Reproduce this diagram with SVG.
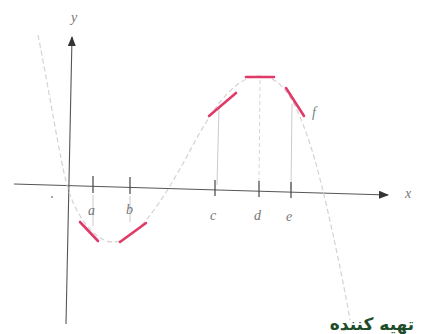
<svg xmlns="http://www.w3.org/2000/svg" width="424" height="334" viewBox="0 0 424 334">
<style>
.axis{stroke:#555;stroke-width:1.1;fill:none}
.tick{stroke:#444;stroke-width:1.2}
.curve{stroke:#d8d0d2;stroke-width:1.2;fill:none;stroke-dasharray:5 3}
.guide{stroke:#c4c4c4;stroke-width:0.9;fill:none}
.guided{stroke:#d0d0d0;stroke-width:0.9;fill:none;stroke-dasharray:4 3}
.tan{stroke:#e03a68;stroke-width:2.6;stroke-linecap:round;fill:none}
.lbl{font-family:"Liberation Serif",serif;font-style:italic;font-size:14px;fill:#777}
</style>
<defs>
<marker id="arr" markerWidth="10" markerHeight="8" refX="9" refY="4" orient="auto" markerUnits="userSpaceOnUse">
<path d="M0,0 L10,4 L0,8 Z" fill="#333"/>
</marker>
</defs>
<rect width="424" height="334" fill="#fff"/>
<g id="connectors">
<path class="axis" d="M66,324 L72,37" marker-end="url(#arr)"/>
<path class="axis" d="M14,184 L388,195" marker-end="url(#arr)"/>
<path class="curve" d="M38,35 C50,95 60,160 67,185 C75,215 95,242 113,242 C135,242 160,205 185,160 C205,122 230,76 260,76 C285,76 300,110 315,160 C330,215 345,290 350,320"/>
<path class="guide" d="M93,195 L93,226 M130,196 L130,222 M219,108 L217,185 M292,104 L291,190"/>
<path class="guided" d="M260,80 L259,186"/>
</g>
<g id="ticks">
<line class="tick" x1="93" y1="176" x2="93" y2="193"/>
<line class="tick" x1="130" y1="177" x2="130" y2="194"/>
<line class="tick" x1="215" y1="180" x2="215" y2="196"/>
<line class="tick" x1="259" y1="181" x2="259" y2="197"/>
<line class="tick" x1="291" y1="182" x2="291" y2="198"/>
</g>
<g id="tangents">
<line class="tan" x1="80" y1="222" x2="98" y2="241"/>
<line class="tan" x1="120" y1="242" x2="146" y2="223"/>
<line class="tan" x1="209" y1="116" x2="236" y2="93"/>
<line class="tan" x1="246" y1="77" x2="274" y2="77"/>
<line class="tan" x1="286" y1="88" x2="304" y2="116"/>
</g>
<g id="labels">
<text class="lbl" x="71" y="22">y</text>
<text class="lbl" x="405" y="198">x</text>
<text class="lbl" x="88" y="215">a</text>
<text class="lbl" x="126" y="214">b</text>
<text class="lbl" x="210" y="220">c</text>
<text class="lbl" x="254" y="220">d</text>
<text class="lbl" x="286" y="221">e</text>
<text class="lbl" x="312" y="117" style="fill:#6a8a7a">f</text>
<circle cx="52" cy="197" r="1" fill="#888"/>
<text x="372" y="330" text-anchor="middle" font-family="'DejaVu Sans',sans-serif" font-weight="bold" font-size="17" fill="#1e4d2b">تهیه کننده</text>
</g>
</svg>
